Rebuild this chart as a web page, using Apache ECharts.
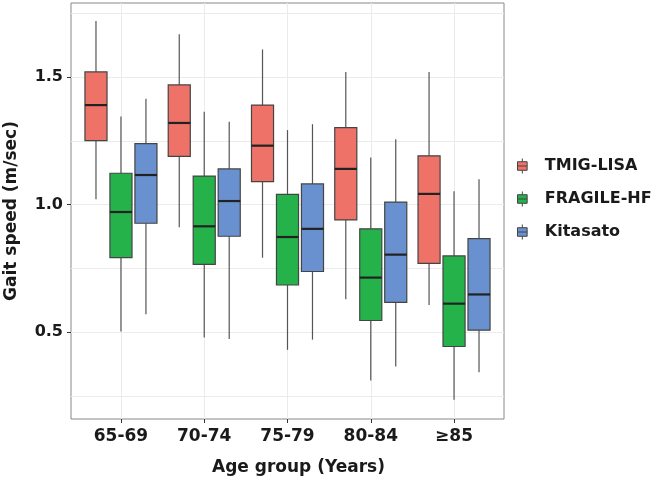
<!DOCTYPE html>
<html>
<head>
<meta charset="utf-8">
<script src="https://cdn.jsdelivr.net/npm/echarts@6/dist/echarts.min.js"></script>
<style>html,body{margin:0;padding:0;background:#fff}#c{width:665px;height:480px}</style>
</head>
<body>
<div id="c"></div>
<script>
// Data: each box = [min, Q1, median, Q3, max]
const categories = ['65-69', '70-74', '75-79', '80-84', '≥85'];
const seriesNames = ['TMIG-LISA', 'FRAGILE-HF', 'Kitasato'];
const tmigLisa = [
  [1.021, 1.251, 1.390, 1.520, 1.719],
  [0.911, 1.189, 1.320, 1.469, 1.668],
  [0.792, 1.090, 1.231, 1.390, 1.608],
  [0.629, 0.940, 1.140, 1.302, 1.520],
  [0.607, 0.770, 1.042, 1.191, 1.520]
];
const fragileHf = [
  [0.503, 0.792, 0.971, 1.123, 1.345],
  [0.479, 0.766, 0.915, 1.112, 1.364],
  [0.431, 0.685, 0.873, 1.040, 1.292],
  [0.311, 0.546, 0.714, 0.905, 1.185],
  [0.235, 0.444, 0.612, 0.799, 1.052]
];
const kitasato = [
  [0.570, 0.927, 1.116, 1.239, 1.415],
  [0.473, 0.876, 1.014, 1.140, 1.325],
  [0.471, 0.738, 0.905, 1.081, 1.315],
  [0.366, 0.617, 0.804, 1.010, 1.256],
  [0.343, 0.508, 0.648, 0.867, 1.099]
];
const yTickValues = [0.5, 1.0, 1.5];
const yGridValues = [0.25, 0.5, 0.75, 1.0, 1.25, 1.5, 1.75];

const colors = ['#ee7268', '#25b24b', '#6a91cf'];
const offsets = [-0.3, 0, 0.3];
const boxWidth = 0.265;
const FONT = 'DejaVu Sans';

function makeSeries(name, data, idx) {
  return {
    name: name,
    type: 'custom',
    xAxisIndex: 0,
    yAxisIndex: 0,
    itemStyle: { color: colors[idx] },
    data: data.map((d, i) => [i + 1].concat(d)),
    encode: { x: 0, y: [1, 2, 3, 4, 5] },
    renderItem: function (params, api) {
      const xv = api.value(0) + offsets[idx];
      const mn = api.coord([xv, api.value(1)]);
      const q1 = api.coord([xv, api.value(2)]);
      const md = api.coord([xv, api.value(3)]);
      const q3 = api.coord([xv, api.value(4)]);
      const mx = api.coord([xv, api.value(5)]);
      const w = api.size([boxWidth, 0])[0];
      const x0 = mn[0] - w / 2;
      return {
        type: 'group',
        children: [
          { type: 'line', shape: { x1: mn[0], y1: mx[1], x2: mn[0], y2: q3[1] }, style: { stroke: '#555', lineWidth: 1.2 } },
          { type: 'line', shape: { x1: mn[0], y1: q1[1], x2: mn[0], y2: mn[1] }, style: { stroke: '#555', lineWidth: 1.2 } },
          { type: 'rect', shape: { x: x0, y: q3[1], width: w, height: q1[1] - q3[1] }, style: { fill: colors[idx], stroke: '#444', lineWidth: 1.2 } },
          { type: 'line', shape: { x1: x0, y1: md[1], x2: x0 + w, y2: md[1] }, style: { stroke: '#222', lineWidth: 2.2 } }
        ]
      };
    }
  };
}

const chart = echarts.init(document.getElementById('c'), null, { renderer: 'canvas' });
chart.setOption({
  backgroundColor: '#fff',
  animation: false,
  textStyle: { fontFamily: FONT },
  grid: { left: 71, right: 161, top: 3, bottom: 61, show: true, borderColor: '#888', borderWidth: 1, backgroundColor: '#fff', containLabel: false, outerBoundsMode: 'none' },
  legend: {
    orient: 'vertical',
    left: 512,
    top: 153,
    itemWidth: 11,
    itemHeight: 15,
    itemGap: 17,
    icon: 'path://M1,3 L10,3 L10,11 L1,11 Z M1,7 L10,7 M5.5,0 L5.5,3 M5.5,11 L5.5,14',
    itemStyle: { borderColor: '#444', borderWidth: 1 },
    textStyle: { fontFamily: FONT, fontWeight: 'bold', fontSize: 16, color: '#1a1a1a', padding: [0, 0, 0, 12] },
    data: seriesNames
  },
  xAxis: {
    type: 'value',
    min: 0.4,
    max: 5.6,
    name: 'Age group (Years)',
    nameLocation: 'middle',
    nameGap: 40,
    nameTextStyle: { fontFamily: FONT, fontWeight: 'bold', fontSize: 17, color: '#1a1a1a', padding: [0, 0, 0, 22] },
    axisLine: { show: false },
    axisTick: { show: true, length: 4, lineStyle: { color: '#333' }, customValues: [1, 2, 3, 4, 5] },
    axisLabel: {
      customValues: [1, 2, 3, 4, 5],
      margin: 9,
      fontFamily: FONT, fontWeight: 'bold', fontSize: 17, color: '#1a1a1a',
      formatter: v => categories[Math.round(v) - 1] || ''
    },
    splitLine: { show: true, lineStyle: { color: '#ebebeb', width: 1 } }
  },
  yAxis: [
    {
      type: 'value', min: 0.16, max: 1.79,
      axisLine: { show: false },
      axisTick: { show: false, customValues: yGridValues },
      axisLabel: { show: false, customValues: yGridValues },
      splitLine: { show: true, lineStyle: { color: '#ebebeb', width: 1 } }
    },
    {
      type: 'value', min: 0.16, max: 1.79, position: 'left',
      name: 'Gait speed (m/sec)',
      nameLocation: 'middle',
      nameGap: 51,
      nameRotate: 90,
      nameTextStyle: { fontFamily: FONT, fontWeight: 'bold', fontSize: 17, color: '#1a1a1a' },
      axisLine: { show: false },
      axisTick: { show: true, length: 4, lineStyle: { color: '#333' }, customValues: yTickValues },
      axisLabel: { customValues: yTickValues, margin: 8, fontFamily: FONT, fontWeight: 'bold', fontSize: 16, color: '#1a1a1a', formatter: v => v.toFixed(1) },
      splitLine: { show: false }
    }
  ],
  series: [
    makeSeries(seriesNames[0], tmigLisa, 0),
    makeSeries(seriesNames[1], fragileHf, 1),
    makeSeries(seriesNames[2], kitasato, 2)
  ]
});
</script>
</body>
</html>
